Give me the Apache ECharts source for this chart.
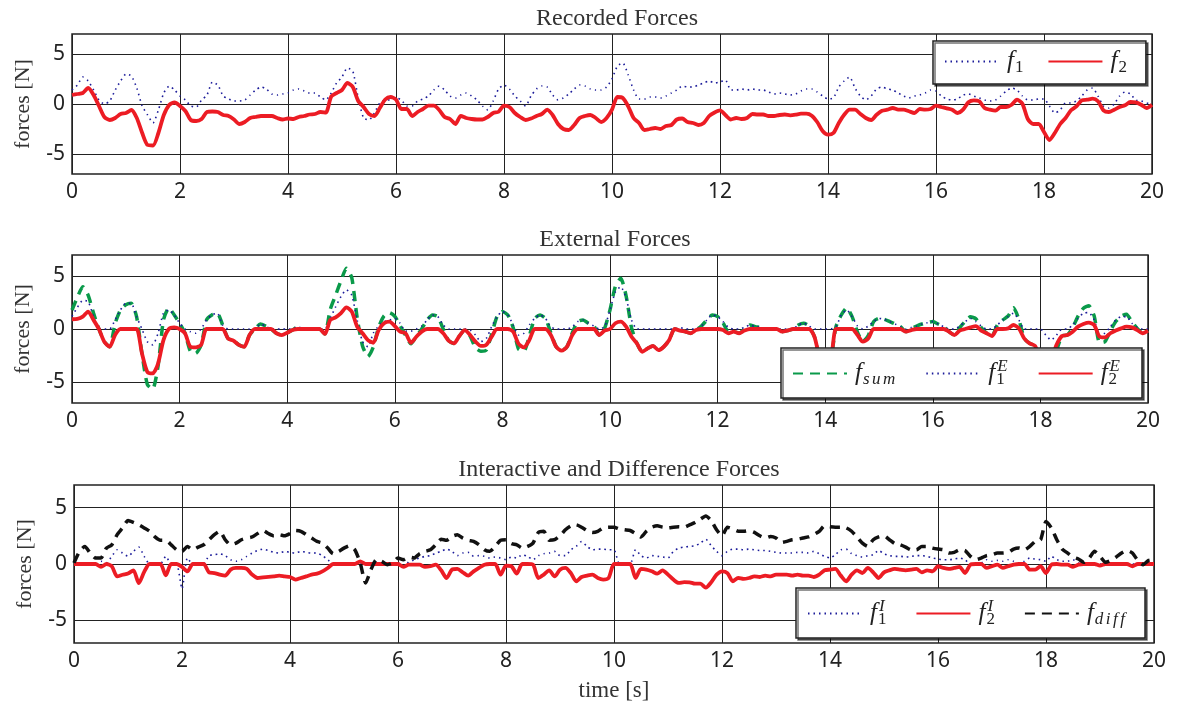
<!DOCTYPE html>
<html>
<head>
<meta charset="utf-8">
<script src="https://cdn.jsdelivr.net/npm/echarts@6/dist/echarts.min.js"></script>
<style>
  html, body { margin: 0; padding: 0; background: #fff; }
  #chart { width: 1182px; height: 706px; }
</style>
</head>
<body>
<div id="chart"></div>
<script>
// time base: 0 .. 20 s, one sample every 0.1 s
const time = Array.from({length: 201}, (_, i) => +(i * 0.1).toFixed(1));
const xTicks = [0, 2, 4, 6, 8, 10, 12, 14, 16, 18, 20];
const yTicks = [-5, 0, 5];

// recorded forces
const f1 = [
  1.4, 1.9, 2.7, 2.3, 1.4, 0.4, 0.0, 0.3, 1.4, 2.3,
  3.0, 2.8, 1.6, -0.2, -1.1, -1.9, -0.6, 1.1, 1.8, 1.4,
  0.8, 0.4, -0.2, -0.3, 0.4, 0.9, 2.2, 1.9, 0.8, 0.5,
  0.3, 0.3, 0.4, 0.9, 1.4, 1.7, 1.5, 1.0, 0.9, 1.0,
  1.1, 1.4, 1.5, 1.3, 1.1, 1.1, 0.7, 0.4, 1.1, 2.1,
  2.7, 3.6, 3.3, 0.6, -1.4, -1.6, -0.9, 0.1, 0.4, 0.4,
  0.6, 0.4, -0.2, -0.2, 0.3, 0.5, 0.8, 1.4, 1.8, 1.4,
  0.8, 0.6, 0.9, 1.1, 0.8, 0.4, -0.2, -0.6, 0.3, 1.5,
  1.9, 1.5, 0.8, 0.3, -0.2, 0.8, 1.5, 1.8, 1.7, 0.9,
  0.4, 0.6, 1.0, 1.5, 1.9, 1.8, 1.5, 1.4, 1.4, 1.7,
  2.5, 3.8, 4.1, 2.9, 1.4, 0.5, 0.5, 0.7, 0.7, 0.6,
  0.8, 1.1, 1.4, 1.8, 1.7, 1.7, 1.9, 2.1, 2.3, 2.1,
  2.2, 2.4, 1.4, 1.4, 1.5, 1.4, 1.5, 1.4, 1.4, 1.2,
  1.0, 1.1, 1.0, 0.9, 1.0, 1.3, 1.5, 1.5, 1.2, 0.8,
  0.5, 0.6, 1.7, 2.3, 2.7, 1.6, 0.8, 0.4, 0.8, 1.5,
  1.7, 1.5, 1.4, 1.1, 0.8, 0.6, 0.8, 0.9, 1.1, 1.4,
  1.3, 0.8, 0.5, 0.4, 0.5, 0.9, 1.0, 0.8, 0.6, 0.4,
  0.3, 0.4, 0.8, 1.3, 1.6, 1.4, 0.8, 0.4, 0.4, 0.5,
  0.5, -0.2, -0.9, -0.6, 0.1, 0.1, 0.3, 0.8, 1.4, 1.6,
  0.8, -0.2, -0.4, 0.0, 0.8, 1.2, 1.0, 0.4, 0.3, 0.1,
  0.0
];
const f2 = [
  0.9, 1.0, 1.1, 1.6, 0.9, -0.2, -1.3, -1.6, -1.4, -1.0,
  -0.9, -0.6, -1.4, -2.9, -4.1, -4.15, -2.9, -1.1, -0.1, 0.15,
  -0.2, -0.7, -1.6, -1.7, -1.5, -0.8, -0.75, -0.8, -1.1, -1.2,
  -1.55, -2.0, -1.8, -1.4, -1.3, -1.2, -1.2, -1.2, -1.4, -1.55,
  -1.45, -1.5, -1.3, -1.2, -1.05, -1.0, -0.8, -0.85, 0.75, 1.1,
  1.4, 2.1, 1.7, 0.3, -0.3, -1.0, -1.2, -0.4, 0.45, 0.7,
  0.45, -0.5, -0.5, -1.2, -0.8, -0.5, -0.17, -0.17, -0.6, -1.3,
  -1.5, -2.0, -1.2, -1.4, -1.5, -1.55, -1.55, -1.3, -0.9, -0.77,
  -0.17, -0.3, -0.9, -1.3, -1.6, -1.45, -1.2, -1.0, -0.57, -1.1,
  -2.0, -2.5, -2.6, -2.1, -1.4, -1.2, -1.1, -1.4, -1.8, -1.4,
  -0.57, 0.7, 0.6, -0.23, -1.4, -1.9, -2.6, -2.5, -2.4, -2.5,
  -2.2, -2.1, -1.55, -1.45, -1.8, -1.9, -2.1, -1.9, -1.2, -0.85,
  -0.63, -1.1, -1.55, -1.4, -1.5, -1.4, -1.0, -1.05, -1.05, -1.2,
  -1.2, -1.1, -1.05, -1.13, -1.07, -0.97, -0.97, -1.17, -1.8, -2.7,
  -3.07, -2.9, -1.9, -1.07, -0.57, -0.57, -1.0, -1.4, -1.6, -1.07,
  -0.67, -0.57, -0.4, -0.57, -0.57, -0.73, -0.9, -0.5, -0.57, -0.5,
  -0.17, -0.3, -0.43, -0.57, -0.9, -0.57, 0.17, 0.37, 0.27, -0.4,
  -0.57, -0.67, -0.3, -0.3, -0.07, 0.43, 0.03, -1.5, -2.0, -2.0,
  -2.8, -3.6, -2.9, -2.0, -1.4, -0.63, -0.23, 0.37, 0.43, 0.53,
  0.27, -0.63, -0.8, -0.57, -0.3, -0.13, 0.2, 0.17, -0.07, -0.4,
  -0.07
];

// external forces
const fSum = [
  1.8, 3.0, 4.0, 3.2, 1.5, 0, -1.2, -1.68, 0.5, 1.8,
  2.3, 2.44, 1.17, -2.3, -5.25, -5.7, -3.5, 0.85, 2.0, 1.33,
  0.54, -0.4, -2.1, -2.3, -1.5, 0.85, 1.33, 1.5, 0.38, -0.9,
  -1.1, -1.5, -1.68, -0.57, 0, 0.47, 0.28, 0, -0.4, -0.57,
  -0.35, -0.1, 0.22, 0, 0, 0, 0, -0.47, 1.85, 3.2,
  4.57, 5.75, 4.85, 1.07, -1.6, -2.6, -1.7, 0.18, 1.24, 1.55,
  1.2, 0.3, -0.6, -1.4, -0.7, 0, 0.85, 1.33, 1.17, 0,
  -1.1, -1.36, -0.66, -0.1, -0.67, -1.77, -2.1, -2.0, -0.5, 1.17,
  1.65, 1.33, 0.13, -1.9, -2.1, -0.67, 1.0, 1.33, 1.0, -0.35,
  -1.68, -2.05, -1.68, -0.35, 0.7, 0.85, 0.54, 0.28, -0.57, 0.07,
  1.8, 4.04, 4.8, 3.12, 0.12, -1.36, -2.15, -1.84, -1.6, -2.0,
  -1.68, -1.05, 0, 0, -0.25, -0.4, -0.1, 0.28, 0.85, 1.33,
  1.17, 0.6, -0.25, -0.25, -0.4, 0, 0.38, 0.22, 0.15, 0,
  0, 0, -0.25, -0.15, 0, 0.38, 0.54, 0.28, -0.73, -2.7,
  -3.07, -2.9, 0.22, 1.33, 2.0, 1.17, -0.29, -1.2, -0.62, 0.7,
  1.0, 0.92, 0.7, 0.47, 0.22, -0.25, 0.05, 0.28, 0.47, 0.6,
  0.7, 0.47, 0.22, -0.25, -0.57, 0.13, 0.7, 1.15, 0.98, 0.13,
  -0.4, -0.66, 0.38, 0.85, 1.23, 2.0, 0.91, -0.9, -1.36, -1.6,
  -2.8, -4.17, -3.95, -2.07, -0.66, -0.57, 0.13, 1.22, 1.97, 2.2,
  1.23, -1.3, -1.2, -0.18, 0.7, 1.23, 1.39, 0.69, 0.05, -0.4,
  -0.15
];
const f1E = [
  1.2, 2.05, 2.7, 2.6, 1.17, 0, 0, 0, 0.85, 1.8,
  2.44, 2.44, 1.17, 0, -1.2, -1.5, -0.4, 1.5, 1.8, 1.33,
  0.54, 0, -0.25, -0.4, 0, 0.85, 1.33, 1.5, 0.38, 0,
  0, 0, 0, 0, 0, 0.47, 0.28, 0, 0, 0,
  0, 0, 0.22, 0, 0, 0, 0, 0, 1.0, 2.1,
  3.07, 3.7, 3.2, 0.85, -1.2, -1.68, -0.4, 0.28, 0.7, 0.85,
  1.0, 0.54, -0.2, -0.2, 0, 0.28, 0.85, 1.33, 1.17, 0.38,
  0, 0, 0, 0, -0.1, -0.57, -1.2, -0.9, 0.22, 1.17,
  1.65, 1.33, 0.38, -0.57, -0.4, 0.38, 1.0, 1.33, 1.0, 0.22,
  0, 0, 0, 0.22, 0.7, 0.85, 0.54, 0.28, 0, 0.22,
  1.8, 3.5, 4.0, 2.9, 0.85, 0, 0, 0, 0, 0,
  0, 0, 0, 0.15, 0, 0, 0, 0.28, 0.85, 1.33,
  1.17, 0.7, 0.15, 0, 0, 0.15, 0.38, 0.22, 0.15, 0,
  0, 0, 0, 0, 0, 0.38, 0.54, 0.28, 0, 0,
  0, 0, 0.22, 1.33, 1.8, 1.17, 0.28, 0, 0.28, 0.7,
  1.0, 0.92, 0.7, 0.47, 0.22, 0, 0.15, 0.28, 0.47, 0.6,
  0.7, 0.47, 0.22, 0, 0, 0.28, 0.7, 1.0, 0.7, 0.28,
  0, 0, 0.38, 0.85, 1.17, 1.5, 0.85, 0, 0, 0,
  0, -0.57, -1.05, -0.57, 0, 0, 0.38, 1.0, 1.5, 1.55,
  0.85, -0.57, -0.4, 0.22, 0.85, 1.17, 1.17, 0.54, 0.15, 0,
  0
];
const f2E = [
  0.92, 0.95, 1.17, 1.65, 0.85, 0, -1.2, -1.68, -0.57, 0,
  0, 0, 0, -2.3, -4.05, -4.2, -3.26, -1.05, 0, 0.15,
  0, -0.4, -1.68, -1.74, -1.5, 0, 0, 0, 0, -0.9,
  -1.1, -1.5, -1.68, -0.57, 0, 0, 0, 0, -0.4, -0.57,
  -0.35, -0.1, 0, 0, 0, 0, 0, -0.47, 0.85, 1.1,
  1.5, 2.05, 1.65, 0.22, -0.4, -1.05, -1.3, -0.1, 0.54, 0.7,
  0.28, -0.25, -0.4, -1.3, -0.73, -0.25, 0, 0, 0, -0.4,
  -1.1, -1.36, -0.66, -0.1, -0.57, -1.2, -1.6, -1.5, -0.73, 0,
  0, 0, -0.25, -1.4, -1.74, -1.05, 0, 0, 0, -0.57,
  -1.68, -2.05, -1.68, -0.57, 0, 0, 0, 0, -0.57, -0.15,
  0, 0.54, 0.7, 0.22, -0.73, -1.36, -2.15, -1.84, -1.6, -2.0,
  -1.68, -1.05, 0, -0.15, -0.25, -0.4, -0.1, 0, 0, 0,
  0, -0.1, -0.4, -0.25, -0.4, -0.15, 0, 0, 0, 0,
  0, 0, -0.25, -0.15, 0, 0, 0, 0, -0.73, -2.7,
  -3.07, -2.9, 0, 0, 0, 0, -0.57, -1.2, -0.9, 0,
  0, 0, 0, 0, 0, -0.25, -0.1, 0, 0, 0,
  0, 0, 0, -0.25, -0.57, -0.15, 0, 0.15, 0.28, -0.15,
  -0.4, -0.66, 0, 0, 0.06, 0.38, 0.06, -0.9, -1.36, -1.6,
  -2.8, -3.6, -2.9, -1.5, -0.66, -0.57, -0.25, 0.22, 0.47, 0.6,
  0.38, -0.73, -0.8, -0.4, -0.15, 0.06, 0.22, 0.15, -0.1, -0.4,
  -0.15
];

// interactive and difference forces
const f1I = [
  0, 0, 0, 0, 0, 0.24, 0.1, 0.68, 1.26, 0.97,
  0.68, 1.12, 1.5, 0.68, 0, 0, 0, 0.68, 0, 0,
  -2.2, 0.53, 0, 0, 0, 0.74, 0.82, 0.91, 0.74, 0.38,
  0.24, 0.38, 0.68, 0.97, 1.2, 1.32, 1.2, 1.03, 0.97, 1.12,
  1.03, 0.97, 1.12, 1.03, 0.97, 0.97, 0.74, 0.38, 0, 0,
  0, 0, 0, 0, 0, 0, 0, 0, 0, 0,
  0, 0.38, 0.1, 0.38, 0.53, 0.68, 0.74, 0.97, 1.12, 1.32,
  1.12, 0.74, 0.97, 1.03, 0.68, 0.74, 0.68, 0.53, 0.62, 0.53,
  0.38, 0.62, 0.53, 0.82, 0.68, 0.38, 0.74, 0.91, 0.97, 1.12,
  0.74, 0.74, 1.26, 1.56, 2.0, 1.56, 1.26, 1.32, 1.32, 1.26,
  1.26, 0, 0, 0, 1.26, 0.74, 0.53, 0.74, 0.68, 0.62,
  0.53, 1.12, 1.41, 1.5, 1.56, 1.62, 1.85, 2.2, 1.62, 1.12,
  0.74, 1.12, 1.32, 1.32, 1.26, 1.32, 1.26, 1.2, 1.2, 1.12,
  1.03, 0.97, 0.97, 0.97, 1.03, 1.03, 0.97, 1.12, 0.91, 0.68,
  0.53, 0.82, 1.26, 1.32, 0.91, 0.74, 0.62, 0.74, 0.82, 1.2,
  0.91, 0.74, 0.68, 0.68, 0.62, 0.68, 0.74, 0.74, 0.68, 0.53,
  0.44, 0.38, 0.38, 0.44, 0.53, 0.38, 0, 0.1, 0.1, 0.38,
  0.24, 0.32, 0.24, 0.38, 0.24, 0.1, 0.24, 0.53, 0.44, 0.38,
  0.24, 0.68, 0.38, 0.24, 0.24, 0.38, 0.1, 0, 0, 0,
  0, 0, 0, 0, 0, 0, 0, 0, 0, 0,
  0
];
const f2I = [
  0, 0, 0, 0, 0, -0.26, 0, -0.2, -1.1, -0.95,
  -0.85, -0.56, -1.7, -0.7, 0, 0, 0, -1.0, 0, 0,
  -0.26, -0.65, 0, 0, 0, -0.74, -0.8, -0.94, -1.03, -0.5,
  -0.35, -0.35, -0.44, -0.94, -1.24, -1.18, -1.15, -1.1, -1.03, -1.1,
  -1.15, -1.38, -1.24, -1.1, -0.94, -0.85, -0.65, -0.35, 0, 0,
  0, 0, 0, 0.24, 0, 0, 0, 0, 0, 0,
  0, -0.26, -0.06, -0.06, -0.06, -0.26, -0.2, -0.06, -0.56, -1.24,
  -0.5, -0.44, -0.74, -1.03, -0.65, -0.35, -0.06, 0, 0, -0.94,
  -0.15, -0.2, -0.85, 0, 0, -0.06, -1.24, -0.94, -0.56, -1.1,
  -0.5, -0.35, -0.8, -1.53, -1.15, -1.03, -0.94, -1.24, -1.38, -1.24,
  0, 0, 0, 0, -1.24, -0.44, -0.5, -0.65, -0.85, -0.56,
  -0.94, -1.38, -1.68, -1.6, -1.62, -1.74, -1.74, -2.1, -1.62, -0.94,
  -0.65, -0.8, -1.53, -1.24, -1.32, -1.24, -1.1, -1.15, -1.03, -1.1,
  -0.94, -0.94, -0.94, -1.03, -0.94, -1.03, -1.03, -1.15, -0.94, -0.56,
  -0.5, -0.44, -1.03, -1.53, -0.94, -0.56, -0.8, -0.35, -0.74, -1.24,
  -0.74, -0.56, -0.44, -0.5, -0.56, -0.5, -0.44, -0.74, -0.56, -0.65,
  -0.2, -0.35, -0.44, -0.35, -0.26, -0.8, -0.06, 0, 0, -0.35,
  -0.2, -0.06, -0.35, -0.2, -0.06, 0, 0, -0.5, -0.5, -0.2,
  -0.8, -0.06, 0, -0.06, -0.06, -0.26, -0.06, 0, 0, 0,
  -0.15, 0, 0, 0, 0, 0, -0.2, 0, 0, 0,
  0
];
const fDiff = [
  0.1, 1.1, 1.56, 0.97, 0.53, 0.53, 1.41, 1.7, 2.6, 3.2,
  3.85, 3.68, 3.47, 3.2, 2.9, 2.4, 2.1, 2.1, 1.7, 1.26,
  1.12, 1.56, 1.26, 1.5, 1.7, 2.15, 2.6, 2.9, 2.15, 1.7,
  1.85, 2.15, 2.3, 2.4, 2.7, 2.97, 2.7, 2.5, 2.6, 2.5,
  2.7, 2.97, 2.9, 2.6, 2.3, 2.0, 1.85, 1.41, 0.91, 1.12,
  1.41, 1.62, 1.26, 0.1, -1.68, -0.5, 0.38, 0.24, -0.06, 0.1,
  0.53, 0.38, 0.62, 0.53, 0.91, 1.12, 1.26, 1.7, 2.2, 2.1,
  2.44, 2.6, 2.3, 2.1, 2.0, 1.7, 1.26, 1.12, 1.56, 2.1,
  2.15, 1.8, 1.7, 1.41, 1.56, 1.85, 2.8, 2.9, 2.1, 2.15,
  2.5, 3.03, 3.38, 3.47, 3.26, 2.97, 2.8, 2.9, 3.2, 3.26,
  3.26, 3.1, 3.03, 2.97, 2.7, 2.4, 2.9, 3.26, 3.38, 3.26,
  3.2, 3.26, 3.3, 3.26, 3.47, 3.68, 3.97, 4.26, 3.85, 3.03,
  2.5, 3.26, 3.1, 2.9, 2.9, 2.97, 2.8, 2.5, 2.3, 2.44,
  2.3, 1.9, 2.0, 2.15, 2.2, 2.3, 2.4, 2.6, 2.9, 3.38,
  3.3, 3.26, 3.26, 3.2, 2.9, 2.4, 1.85, 1.56, 2.15, 2.4,
  2.5, 2.15, 1.8, 1.7, 1.5, 1.26, 1.26, 1.56, 1.56, 1.41,
  1.32, 1.26, 0.97, 1.03, 1.26, 1.2, 0.68, 0.38, 0.53, 0.74,
  0.82, 0.97, 0.97, 1.03, 1.32, 1.41, 1.26, 1.56, 2.0, 2.15,
  3.76, 3.2, 2.15, 1.32, 0.97, 0.62, 0.44, 0.15, 0.53, 1.12,
  0.68, 0.15, 0.32, 0.62, 0.97, 1.2, 0.97, 0.32, -0.06, 0.32,
  0.38
];

const titles = ['Recorded Forces', 'External Forces', 'Interactive and Difference Forces'];

const SERIF = 'Liberation Serif';
const SANS = 'Noto Sans';
const RED = '#ec1c24', BLUE = '#1c1c9a', GREEN = '#0a9a4a', BLACK = '#111';

const pair = (ys) => ys.map((y, i) => [time[i], y]);

// legend label rich text: italic f with sub / sup scripts
const legendText = {
    f1: '{it|f}{sb|1}',
    f2: '{it|f}{sb|2}',
    fsum: '{it|f}{si|s}{si|u}{si|m}',
    f1E: '{it|f}{sb0|1}{sp|E}',
    f2E: '{it|f}{sb0|2}{sp|E}',
    f1I: '{it|f}{sb0|1}{sp|I}',
    f2I: '{it|f}{sb0|2}{sp|I}',
    fdiff: '{it|f}{si|d}{si|i}{si|f}{si|f}'
};
const rich = {
    it: {fontFamily: SERIF, fontStyle: 'italic', fontSize: 25, color: '#222', padding: [0, 1, 0, 0]},
    sb: {fontFamily: SERIF, fontSize: 17, color: '#222', padding: [12, 0, 0, 0]},
    sb0: {fontFamily: SERIF, fontSize: 17, color: '#222', padding: [12, 0, 0, 0], width: 0},
    si: {fontFamily: SERIF, fontStyle: 'italic', fontSize: 17, color: '#222', padding: [12, 2.5, 0, 0]},
    sp: {fontFamily: SERIF, fontStyle: 'italic', fontSize: 17, color: '#222', padding: [0, 0, 14, 1]}
};

const grids = [
    {left: 72, top: 34, width: 1080, height: 140},
    {left: 72, top: 255, width: 1076, height: 148},
    {left: 74, top: 485, width: 1080, height: 158}
];

function makeX(i) {
    const ax = {
        type: 'value', gridIndex: i, min: 0, max: 20, interval: 2,
        axisLine: {show: false},
        axisTick: {show: false},
        axisLabel: {fontFamily: SANS, fontSize: 21, color: '#222', margin: 8},
        splitLine: {show: true, lineStyle: {color: '#222', width: 1}}
    };
    if (i === 2) {
        ax.name = 'time [s]';
        ax.nameLocation = 'middle';
        ax.nameGap = 36;
        ax.nameTextStyle = {fontFamily: SERIF, fontSize: 23, color: '#333'};
    }
    return ax;
}

function makeY(i) {
    return {
        type: 'value', gridIndex: i, min: -7, max: 7, interval: 1,
        name: 'forces [N]', nameLocation: 'middle', nameGap: 38,
        nameTextStyle: {fontFamily: SERIF, fontSize: 22, color: '#333'},
        axisLine: {show: false},
        axisTick: {show: false},
        axisLabel: {
            fontFamily: SANS, fontSize: 21, color: '#222', margin: 7,
            formatter: (v) => yTicks.indexOf(v) >= 0 ? String(v) : ''
        },
        // only the -5 / 0 / 5 lines are drawn
        splitLine: {show: true, lineStyle: {color: ['rgba(0,0,0,0)', 'rgba(0,0,0,0)', '#222', 'rgba(0,0,0,0)', 'rgba(0,0,0,0)'], width: 1}}
    };
}

function line(name, data, idx, color, width, type) {
    return {
        name: name, type: 'line', xAxisIndex: idx, yAxisIndex: idx,
        data: pair(data), showSymbol: false, symbol: 'none',
        smooth: type === 'solid' ? 0.25 : 0.2,
        lineStyle: {color: color, width: width, type: type},
        itemStyle: {color: color},
        z: 2, animation: false
    };
}

const DOTS = [1.5, 4];
const DASH = [10, 7];

function legendBox(names, left, top, gap, pad) {
    return {
        data: names, left: left, top: top, orient: 'horizontal',
        itemWidth: 54, itemHeight: 14, itemGap: gap,
        padding: pad,
        z: 10,
        backgroundColor: '#fff', borderColor: '#222', borderWidth: 1.5,
        shadowColor: 'rgba(0,0,0,0.55)', shadowOffsetX: 2, shadowOffsetY: 2, shadowBlur: 0,
        selectedMode: false,
        itemStyle: {opacity: 0},
        formatter: (n) => legendText[n],
        textStyle: {fontFamily: SERIF, fontSize: 22, color: '#222', rich: rich, padding: [0, 0, 0, 3]}
    };
}

const chart = echarts.init(document.getElementById('chart'), null, {renderer: 'canvas'});
chart.setOption({
    backgroundColor: '#fff',
    animation: false,
    title: titles.map((t, i) => ({
        text: t, left: grids[i].left + grids[i].width / 2, textAlign: 'center',
        top: [2, 223, 453][i],
        textStyle: {fontFamily: SERIF, fontSize: 24, fontWeight: 'normal', color: '#333'}
    })),
    grid: grids.map(g => Object.assign({show: true, borderColor: '#222', borderWidth: 1.5, backgroundColor: 'transparent'}, g)),
    xAxis: [0, 1, 2].map(makeX),
    yAxis: [0, 1, 2].map(makeY),
    legend: [
        legendBox(['f1', 'f2'], 933, 41, 24, [8, 19, 8, 11]),
        legendBox(['fsum', 'f1E', 'f2E'], 781, 348, 30, [10, 22, 10, 11]),
        legendBox(['f1I', 'f2I', 'fdiff'], 796, 588, 29, [10, 20, 10, 11])
    ],
    series: [
        line('f1', f1, 0, BLUE, 1.6, DOTS),
        line('f2', f2, 0, RED, 3.8, 'solid'),
        line('fsum', fSum, 1, GREEN, 3.5, DASH),
        line('f1E', f1E, 1, BLUE, 1.6, DOTS),
        line('f2E', f2E, 1, RED, 3.8, 'solid'),
        line('f1I', f1I, 2, BLUE, 1.6, DOTS),
        line('f2I', f2I, 2, RED, 3.8, 'solid'),
        line('fdiff', fDiff, 2, BLACK, 3.5, DASH)
    ]
});
</script>
</body>
</html>
